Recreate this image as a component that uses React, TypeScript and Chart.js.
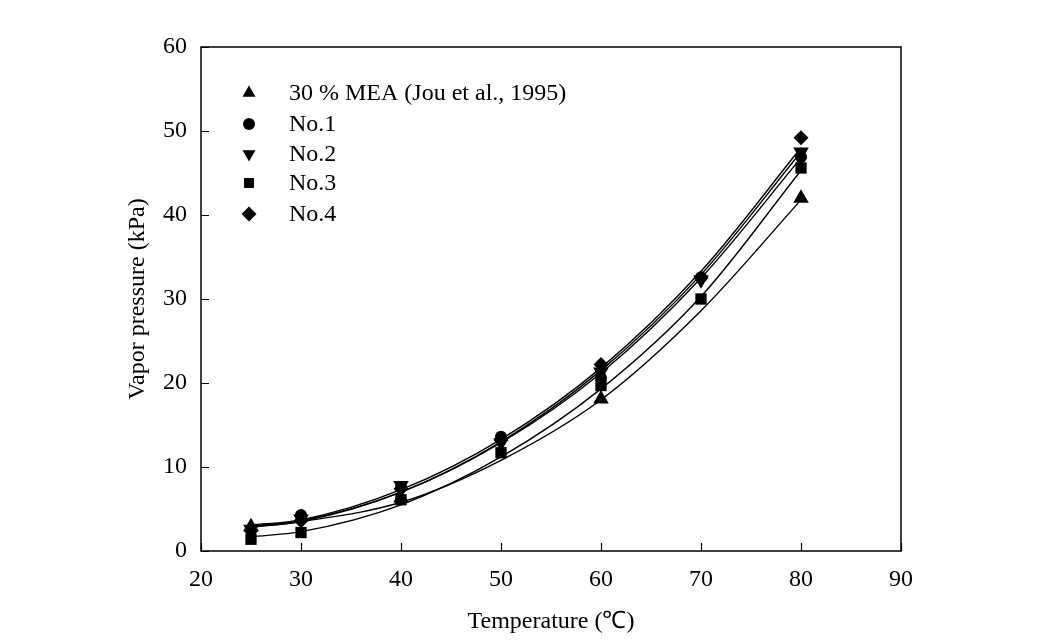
import React, { useEffect, useRef } from "react";
import { Chart, registerables } from "chart.js";

Chart.register(...registerables);

const temps = [25, 30, 40, 50, 60, 70, 80];
const meaTemps = [25, 40, 60, 80];

const seriesLabels = ["30 % MEA (Jou et al., 1995)", "No.1", "No.2", "No.3", "No.4"];

const meaPoints = [2.9, 6.3, 18.1, 42.0];
const no1Points = [2.6, 4.3, 7.6, 13.6, 20.6, 32.6, 46.9];
const no2Points = [2.6, 3.8, 7.8, 12.9, 21.3, 32.3, 47.5];
const no3Points = [1.4, 2.2, 6.1, 11.7, 19.7, 30.0, 45.6];
const no4Points = [2.4, 3.6, 7.4, 13.2, 22.2, 32.5, 49.2];

const meaCurve = [2.8, 3.5, 5.8, 10.8, 18.0, 28.6, 41.8];
const no1Curve = [3.0, 3.6, 7.0, 12.9, 21.2, 32.5, 46.8];
const no2Curve = [2.9, 3.5, 7.0, 13.0, 21.5, 32.9, 47.5];
const no3Curve = [1.7, 2.3, 5.5, 11.2, 19.3, 30.3, 45.3];
const no4Curve = [3.1, 3.7, 7.3, 13.3, 21.8, 33.3, 48.0];

const xTicks = [20, 30, 40, 50, 60, 70, 80, 90];
const yTicks = [0, 10, 20, 30, 40, 50, 60];

const FONT = "'Liberation Serif', 'Times New Roman', serif";

const markerStyles = ["triangle", "circle", "triangle", "rect", "rectRot"];
const markerRotations = [0, 0, 180, 0, 0];
const markerRadii = [9, 6, 9, 8, 7.5];

function drawMarker(ctx: CanvasRenderingContext2D, style: string, rot: number, x: number, y: number, r: number) {
  ctx.save();
  ctx.fillStyle = "#000";
  ctx.beginPath();
  if (style === "circle") {
    ctx.arc(x, y, r, 0, Math.PI * 2);
  } else if (style === "triangle") {
    const down = rot === 180;
    const s = down ? -1 : 1;
    for (let i = 0; i < 3; i++) {
      const a = (i * 2 * Math.PI) / 3;
      const px = x + Math.sin(a) * r;
      const py = y - s * Math.cos(a) * r;
      if (i === 0) ctx.moveTo(px, py);
      else ctx.lineTo(px, py);
    }
    ctx.closePath();
  } else if (style === "rect") {
    const h = r * Math.SQRT1_2;
    ctx.rect(x - h, y - h, 2 * h, 2 * h);
  } else {
    ctx.moveTo(x, y - r);
    ctx.lineTo(x + r, y);
    ctx.lineTo(x, y + r);
    ctx.lineTo(x - r, y);
    ctx.closePath();
  }
  ctx.fill();
  ctx.restore();
}

const legendRadii = [7.5, 6, 7.5, 7, 7.5];

const framePlugin = {
  id: "frameAndLegend",
  afterDraw(chart: any) {
    const { ctx, chartArea } = chart;
    const { left, right, top, bottom } = chartArea;
    const xs = chart.scales.x;
    const ys = chart.scales.y;
    ctx.save();
    ctx.strokeStyle = "#000";
    ctx.lineWidth = 1.5;
    ctx.strokeRect(left, top, right - left, bottom - top);
    ctx.lineWidth = 1.2;
    ctx.beginPath();
    for (const v of xTicks) {
      const px = Math.round(xs.getPixelForValue(v)) + 0.5;
      ctx.moveTo(px, bottom);
      ctx.lineTo(px, bottom - 8);
    }
    for (const v of yTicks) {
      const py = Math.round(ys.getPixelForValue(v)) + 0.5;
      ctx.moveTo(left, py);
      ctx.lineTo(left + 8, py);
    }
    ctx.stroke();

    // legend
    const rowY = [93, 124, 154, 183, 214];
    ctx.font = `24px ${FONT}`;
    ctx.fillStyle = "#000";
    ctx.textBaseline = "middle";
    ctx.textAlign = "left";
    seriesLabels.forEach((lab, i) => {
      drawMarker(ctx, markerStyles[i], markerRotations[i], 249, rowY[i], legendRadii[i]);
      ctx.fillText(lab, 289, rowY[i] + 1);
    });
    ctx.restore();
  },
};

export default function App() {
  const ref = useRef<HTMLCanvasElement | null>(null);

  useEffect(() => {
    document.body.style.margin = "0";
    const canvas = ref.current;
    if (!canvas) return;

    const toXY = (xsArr: number[], ysArr: number[]) => xsArr.map((x, i) => ({ x, y: ysArr[i] }));

    const pointSets = [
      toXY(meaTemps, meaPoints),
      toXY(temps, no1Points),
      toXY(temps, no2Points),
      toXY(temps, no3Points),
      toXY(temps, no4Points),
    ];
    const curveSets = [
      toXY(temps, meaCurve),
      toXY(temps, no1Curve),
      toXY(temps, no2Curve),
      toXY(temps, no3Curve),
      toXY(temps, no4Curve),
    ];

    const datasets: any[] = [];
    pointSets.forEach((d, i) => {
      datasets.push({
        label: seriesLabels[i],
        data: d,
        showLine: false,
        pointStyle: markerStyles[i],
        rotation: markerRotations[i],
        pointRadius: markerRadii[i],
        pointBackgroundColor: "#000",
        pointBorderColor: "#000",
        pointBorderWidth: 0,
        order: 0,
      });
    });
    curveSets.forEach((d, i) => {
      datasets.push({
        label: seriesLabels[i] + " fit",
        data: d,
        showLine: true,
        borderColor: "#000",
        borderWidth: 1.4,
        pointRadius: 0,
        cubicInterpolationMode: "monotone",
        fill: false,
        order: 1,
      });
    });

    const chart = new Chart(canvas, {
      type: "scatter",
      data: { datasets },
      options: {
        responsive: false,
        animation: false,
        events: [],
        layout: { padding: { left: 0, top: 47, right: 151, bottom: 0 } },
        plugins: {
          legend: { display: false },
          tooltip: { enabled: false },
        },
        scales: {
          x: {
            type: "linear",
            min: 20,
            max: 90,
            grid: { display: false },
            border: { display: false },
            ticks: {
              stepSize: 10,
              color: "#000",
              padding: 6,
              font: { family: FONT, size: 24 },
            },
            title: {
              display: true,
              text: "Temperature (℃)",
              color: "#000",
              font: { family: FONT, size: 24 },
              padding: { top: 7, bottom: 7 },
            },
            afterFit: (s: any) => {
              s.height = 92;
            },
          },
          y: {
            type: "linear",
            min: 0,
            max: 60,
            grid: { display: false },
            border: { display: false },
            ticks: {
              stepSize: 10,
              color: "#000",
              padding: 6,
              font: { family: FONT, size: 24 },
            },
            title: {
              display: true,
              text: "Vapor pressure (kPa)",
              color: "#000",
              font: { family: FONT, size: 24 },
              padding: { top: 123, bottom: 123 },
            },
            afterFit: (s: any) => {
              s.width = 201;
            },
          },
        },
      },
      plugins: [framePlugin],
    });

    return () => chart.destroy();
  }, []);

  return (
    <div style={{ width: 1052, height: 643, background: "#fff" }}>
      <canvas ref={ref} width={1052} height={643} style={{ display: "block" }} />
    </div>
  );
}
